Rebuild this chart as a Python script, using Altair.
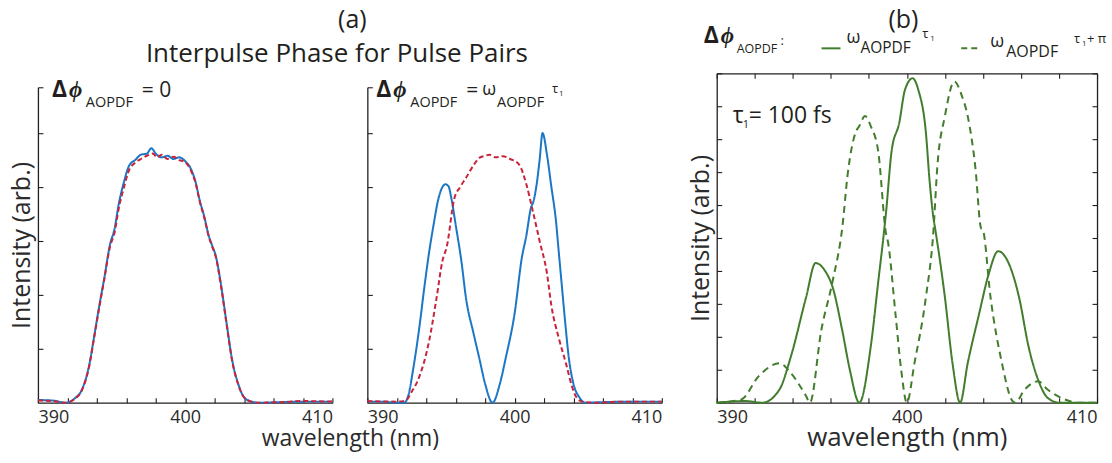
import altair as alt
import pandas as pd

# ---------------- data ----------------
# Panel (a) left: delta phi = 0
p1_blue_nm = [390.0, 391.0, 391.9, 392.5, 393.0, 393.5, 393.8, 394.2, 394.5, 394.9, 395.2, 395.5, 395.8,
              396.2, 396.6, 397.0, 397.4, 397.7, 398.0, 398.4, 398.8, 399.2, 399.6, 400.0, 400.4, 400.7,
              401.0, 401.3, 401.6, 401.8, 402.1, 402.4, 402.8, 403.2, 403.6, 404.0, 404.5, 405.0, 406.5,
              408.0, 410.0]
p1_blue_val = [0.05, 0.04, 0.0, 0.08, 0.25, 0.72, 1.2, 1.85, 2.3, 2.94, 3.22, 3.7, 4.05,
               4.4, 4.5, 4.6, 4.62, 4.72, 4.62, 4.55, 4.58, 4.52, 4.55, 4.48, 4.33, 4.1,
               3.74, 3.45, 3.1, 2.94, 2.7, 2.25, 1.5, 0.78, 0.35, 0.1, 0.02, 0.0, 0.01,
               0.02, 0.02]
p1_red_nm = [390.0, 391.0, 391.9, 392.5, 393.0, 393.5, 393.8, 394.2, 394.5, 394.9, 395.2, 395.5, 395.8,
             396.2, 396.6, 397.0, 397.4, 397.8, 398.1, 398.4, 398.8, 399.2, 399.6, 400.0, 400.4, 400.7,
             401.0, 401.3, 401.6, 401.8, 402.1, 402.4, 402.8, 403.2, 403.6, 404.0, 404.5, 405.0, 406.5,
             408.0, 410.0]
p1_red_val = [0.04, 0.03, 0.0, 0.07, 0.24, 0.7, 1.18, 1.82, 2.28, 2.9, 3.15, 3.62, 3.95,
              4.32, 4.45, 4.52, 4.58, 4.62, 4.55, 4.6, 4.52, 4.56, 4.5, 4.46, 4.3, 4.08,
              3.72, 3.43, 3.08, 2.92, 2.68, 2.22, 1.48, 0.76, 0.34, 0.1, 0.02, 0.0, 0.01,
              0.03, 0.02]

# Panel (a) right: delta phi = omega * tau1
p2_blue_nm = [390.0, 391.0, 392.0, 392.5, 392.8, 393.1, 393.5, 393.9, 394.2, 394.5, 394.8, 395.1, 395.3,
              395.5, 395.7, 396.0, 396.4, 396.7, 397.2, 397.6, 398.0, 398.5, 399.0, 399.4, 400.0, 400.5,
              400.8, 401.1, 401.3, 401.5, 401.7, 401.9, 402.2, 402.5, 402.8, 403.0, 403.2, 403.4, 403.7,
              404.0, 404.4, 404.8, 406.0, 408.0, 410.0]
p2_blue_val = [0.02, 0.02, 0.0, 0.0, 0.15, 0.6, 1.33, 2.2, 2.8, 3.3, 3.75, 4.0, 4.05,
               4.02, 3.8, 3.3, 2.6, 1.94, 1.3, 0.83, 0.35, 0.0, 0.35, 0.83, 1.65, 2.7,
               3.1, 3.6, 3.75, 4.05, 4.5, 5.0, 4.6, 4.0, 3.4, 2.8, 2.2, 1.6, 0.8,
               0.35, 0.1, 0.0, 0.01, 0.02, 0.02]
p2_red_nm = [390.0, 392.0, 392.6, 393.0, 393.5, 394.2, 394.7, 395.1, 395.4, 395.9, 396.3, 396.7, 397.2,
             397.6, 398.0, 398.3, 398.7, 399.2, 399.7, 400.3, 400.8, 401.2, 401.7, 402.2, 402.5, 403.0,
             403.5, 403.9, 404.2, 404.6, 405.5, 407.0, 410.0]
p2_red_val = [0.03, 0.02, 0.04, 0.2, 0.46, 1.15, 1.94, 2.63, 2.9, 3.78, 4.0, 4.17, 4.4,
              4.54, 4.58, 4.6, 4.55, 4.57, 4.52, 4.42, 4.05, 3.6, 3.0, 2.4, 1.8, 1.2,
              0.72, 0.3, 0.1, 0.02, 0.0, 0.02, 0.02]

# Panel (b): green solid and dashed
p3_solid_nm = [390.0, 391.5, 392.4, 393.3, 393.9, 394.7, 395.2, 395.7, 396.1, 396.6, 397.0, 397.5,
               398.1, 398.5, 398.8, 398.9, 399.2, 399.6, 399.9, 400.3, 400.6, 401.0, 401.2, 401.4,
               401.5, 402.0, 402.4, 402.8, 403.2, 403.8, 404.3, 404.8, 405.3, 405.9, 406.4, 406.9,
               407.4, 408.0, 410.0]
p3_solid_val = [0.0, 0.05, 0.0, 0.4, 1.4, 3.2, 4.24, 4.0, 3.5, 2.2, 1.0, 0.0,
                1.7, 3.7, 5.2, 5.75, 7.65, 8.5, 9.5, 9.85, 9.5, 8.2, 6.7, 5.6,
                5.24, 3.2, 1.2, 0.0, 1.2, 2.7, 3.9, 4.6, 4.3, 3.2, 1.7, 0.7,
                0.15, 0.0, 0.0]
p3_dash_nm = [390.0, 391.3, 392.2, 393.3, 393.9, 394.7, 394.9, 395.5, 396.1, 396.6, 396.9, 397.3,
              397.5, 397.8, 398.1, 398.5, 398.9, 399.0, 399.4, 399.7, 400.0, 400.4, 401.0, 401.4,
              401.6, 402.0, 402.5, 402.9, 403.2, 403.6, 403.9, 404.0, 404.4, 405.0, 405.5, 405.7,
              406.2, 406.9, 407.4, 408.3, 409.0, 410.0]
p3_dash_val = [0.0, 0.1, 0.8, 1.2, 0.9, 0.2, 0.0, 2.2, 3.7, 5.3, 7.0, 8.2,
               8.4, 8.7, 8.4, 7.6, 5.15, 4.9, 2.7, 1.0, 0.0, 1.2, 3.2, 5.24,
               7.15, 8.7, 9.75, 9.3, 8.7, 7.15, 5.3, 5.24, 3.2, 1.2, 0.1, 0.0,
               0.4, 0.65, 0.4, 0.1, 0.0, 0.0]

x_domain = [390, 410]
x_ticks = [390, 392, 394, 396, 398, 400, 402, 404, 406, 408, 410]
x_labels = [390, 400, 410]
a_y_ticks = [1, 2, 3, 4, 5, 5.85]
b_y_ticks = [0, 1, 2, 3, 4, 5, 6, 7, 8, 9, 10]

# ---------------- style ----------------
FONT = "Open Sans"
INK = "#231f20"
AX_TXT = "#2b2b2b"
BLUE = "#1b76c6"
RED = "#c8243c"
GREEN = "#427c2d"

W_A, W_B, H = 295, 381, 330
GAP2 = 20  # extra room to the right of panel 2


def frame(nm, val, series):
    return pd.DataFrame({"nm": nm, "val": val, "s": series})


def txt(s, x, y, size, weight="normal", style="normal", align="left"):
    return alt.Chart(alt.Data(values=[{}])).mark_text(
        text=s, align=align, baseline="alphabetic", font=FONT, fontSize=size,
        fontWeight=weight, fontStyle=style, color=INK
    ).encode(x=alt.value(x), y=alt.value(y))


def panel(df, ydom, yrange, colors, dashes, W, CW, y_ticks, ytitle, xtitle, xtitle_x, tsize_x, box):
    xs = alt.Scale(domain=x_domain, range=[0, W], nice=False, zero=False)
    ys = alt.Scale(domain=ydom, range=yrange, nice=False, zero=False)
    xkw = dict(orient="bottom", values=x_labels, ticks=False, tickSize=0, labelPadding=6, domain=True)
    if xtitle:
        xkw.update(title=xtitle, titleX=xtitle_x, titleY=43, titleBaseline="alphabetic",
                   titleAlign="center", titleFontSize=tsize_x)
    else:
        xkw.update(title=None)
    ykw = dict(orient="left", labels=False, ticks=False, tickSize=0, domain=True)
    if ytitle:
        ykw.update(title=ytitle, titlePadding=3, titleFontSize=25)
    else:
        ykw.update(title=None)
    lines = alt.Chart(df).mark_line(strokeWidth=2, interpolate="monotone").encode(
        x=alt.X("nm:Q", scale=xs, axis=alt.Axis(**xkw)),
        y=alt.Y("val:Q", scale=ys, axis=alt.Axis(**ykw)),
        color=alt.Color("s:N", scale=alt.Scale(domain=list(colors.keys()), range=list(colors.values())), legend=None),
        strokeDash=alt.StrokeDash("s:N", scale=alt.Scale(domain=list(dashes.keys()), range=list(dashes.values())), legend=None),
    )
    inner = alt.Chart(df).mark_point(opacity=0).encode(
        x=alt.X("nm:Q", scale=xs, axis=alt.Axis(
            orient="top", offset=-H, values=x_ticks, labels=False, domain=False, tickSize=5, title=None)),
        y=alt.Y("val:Q", scale=ys, axis=alt.Axis(
            orient="right", offset=-CW, values=y_ticks, labels=False, domain=False, tickSize=5, title=None)),
    )
    layers = [lines, inner]
    if box:
        outer = alt.Chart(df).mark_point(opacity=0).encode(
            x=alt.X("nm:Q", scale=xs, axis=alt.Axis(
                orient="bottom", offset=-H, values=x_ticks, labels=False, domain=True, tickSize=5, title=None)),
            y=alt.Y("val:Q", scale=ys, axis=alt.Axis(
                orient="left", offset=-W, values=y_ticks, labels=False, domain=True, tickSize=5, title=None)),
        )
        layers.append(outer)
    return layers


df1 = pd.concat([frame(p1_blue_nm, p1_blue_val, "p1a"), frame(p1_red_nm, p1_red_val, "p1b")])
df2 = pd.concat([frame(p2_blue_nm, p2_blue_val, "p2a"), frame(p2_red_nm, p2_red_val, "p2b")])
df3 = pd.concat([frame(p3_solid_nm, p3_solid_val, "p3a"), frame(p3_dash_nm, p3_dash_val, "p3b")])

# ---- panel 1 ----
l1 = panel(df1, [0, 5.85], [H, 14], {"p1a": BLUE, "p1b": RED}, {"p1a": [1, 0], "p1b": [5, 3]},
           W_A, W_A, a_y_ticks, "Intensity (arb.)", "wavelength (nm)", 312.5, 23, False)
anchor = alt.Chart(alt.Data(values=[{}])).mark_rule(strokeOpacity=0).encode(
    x=alt.value(-38), x2=alt.value(-37), y=alt.value(-73), y2=alt.value(-72))
t1 = [
    anchor,
    txt("(a)", 315, -45, 25, align="center"),
    txt("Interpulse Phase for Pulse Pairs", 299.5, -11, 26, align="center"),
    txt("Δ", 14, 24, 23, weight="bold"),
    txt("ϕ", 31, 24, 23, weight="bold", style="italic"),
    txt("AOPDF", 48, 34, 14.5),
    txt("= 0", 104, 24, 21),
]
c1 = alt.layer(*l1, *t1).resolve_axis(x="independent", y="independent").properties(width=W_A, height=H)

# ---- panel 2 ----
l2 = panel(df2, [0, 5.85], [H, 14], {"p2a": BLUE, "p2b": RED}, {"p2a": [1, 0], "p2b": [5, 3]},
           W_A, W_A + GAP2, a_y_ticks, None, None, None, 23, False)
t2 = [
    txt("Δ", 9, 24, 23, weight="bold"),
    txt("ϕ", 26, 24, 23, weight="bold", style="italic"),
    txt("AOPDF", 43, 34, 14.5),
    txt("=", 99, 24, 21),
    txt("ω", 115, 22, 18),
    txt("AOPDF", 130, 34, 14.5),
    txt("τ", 185, 20, 13),
    txt("1", 192, 23, 8),
]
c2 = alt.layer(*l2, *t2).resolve_axis(x="independent", y="independent").properties(width=W_A + GAP2, height=H)

# ---- panel 3 ----
l3 = panel(df3, [0, 10], [H, 0], {"p3a": GREEN, "p3b": GREEN}, {"p3a": [1, 0], "p3b": [7, 5]},
           W_B, W_B, b_y_ticks, "Intensity (arb.)", "wavelength (nm)", W_B / 2, 26, True)
sample_solid = alt.Chart(alt.Data(values=[{}])).mark_rule(color=GREEN, strokeWidth=2).encode(
    x=alt.value(105), x2=alt.value(124), y=alt.value(-25))
sample_dash = alt.Chart(alt.Data(values=[{}])).mark_rule(color=GREEN, strokeWidth=2, strokeDash=[6, 4]).encode(
    x=alt.value(245), x2=alt.value(262), y=alt.value(-25))
t3 = [
    txt("(b)", 187, -45, 25, align="center"),
    txt("Δ", -13, -30, 23, weight="bold"),
    txt("ϕ", 4, -30, 23, weight="bold", style="italic"),
    txt("AOPDF", 20, -20, 12.5),
    txt(":", 64, -28, 13),
    sample_solid,
    txt("ω", 130, -30, 18),
    txt("AOPDF", 144, -20, 15.5),
    txt("τ", 206, -35, 13),
    txt("1", 214, -32, 8),
    sample_dash,
    txt("ω", 274, -26, 18),
    txt("AOPDF", 290, -16, 16),
    txt("τ", 358, -30, 13),
    txt("1", 366, -27, 8),
    txt("+ π", 371, -30, 13),
    txt("τ", 16, 50, 23),
    txt("1", 26, 55, 11),
    txt("= 100 fs", 32, 50, 23),
]
c3 = alt.layer(*l3, *t3).resolve_axis(x="independent", y="independent").properties(width=W_B, height=H)

chart = alt.hconcat(c1, c2, c3, spacing=35, bounds="flush").resolve_scale(
    color="independent", strokeDash="independent"
).properties(
    padding={"left": 0, "top": 0, "right": 5, "bottom": 25}
).configure_view(strokeWidth=0).configure_axis(
    grid=False, domainColor=INK, domainWidth=1.3, tickColor=INK, tickWidth=1.1,
    labelFont=FONT, labelFontSize=18, labelColor=AX_TXT,
    titleFont=FONT, titleFontSize=23, titleFontWeight="normal", titleColor=AX_TXT,
)

chart.save("out.html", embed_options={"renderer": "svg", "actions": False})
